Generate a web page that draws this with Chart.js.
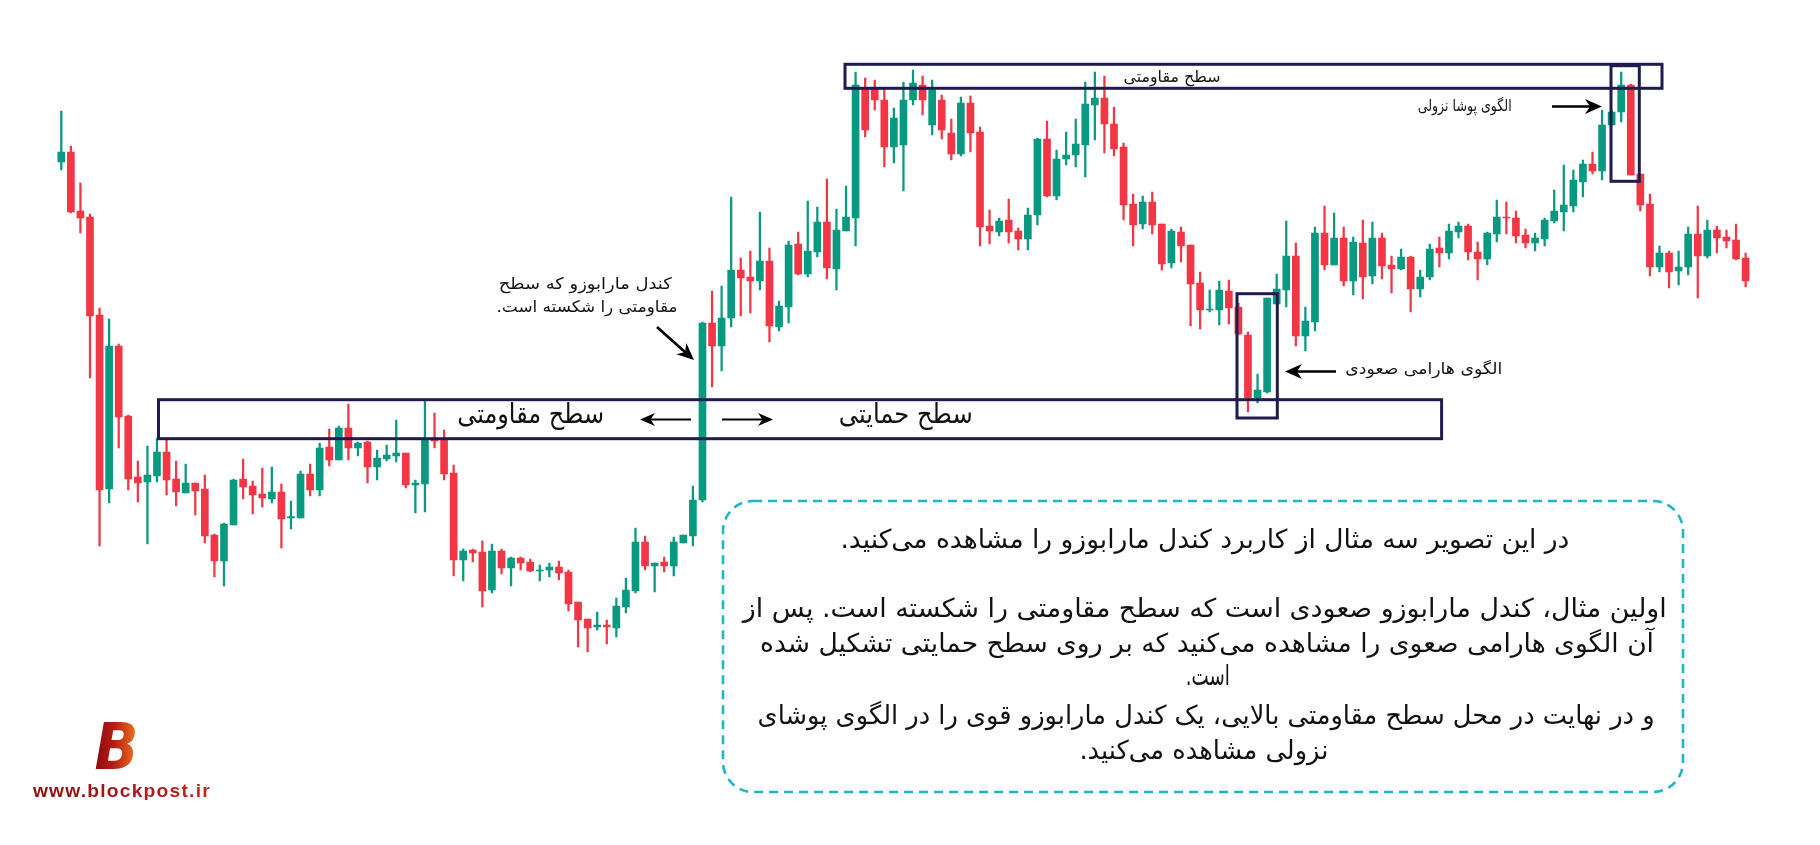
<!DOCTYPE html>
<html><head><meta charset="utf-8">
<script src="https://cdn.jsdelivr.net/npm/chart.js@4.4.0/dist/chart.umd.min.js"></script>
<style>
html,body{margin:0;padding:0;background:#fff;}
#wrap{position:relative;width:1820px;height:845px;overflow:hidden;background:#fff;}
#c{position:absolute;left:0;top:0;}
.fa{position:absolute;font-family:"DejaVu Sans",sans-serif;direction:rtl;white-space:nowrap;color:#111;line-height:1;transform-origin:50% 50%;}
.logoB{position:absolute;font-family:"DejaVu Sans",sans-serif;font-weight:900;font-style:italic;line-height:1;
  background:linear-gradient(90deg,#8a0a0a 0%,#b81d16 45%,#f07c1c 100%);-webkit-background-clip:text;background-clip:text;color:transparent;transform-origin:50% 50%;}
.logoT{position:absolute;font-family:"Liberation Sans",Arial,sans-serif;font-weight:bold;line-height:1;letter-spacing:1.2px;
  background:linear-gradient(90deg,#8f0d0d,#b0161a 60%,#c3281c);-webkit-background-clip:text;background-clip:text;color:transparent;transform-origin:50% 50%;}
</style></head>
<body><div id="wrap"><canvas id="c" width="1820" height="845"></canvas></div>
<script>
// ---- data (arbitrary price units) ----
const opens = [683,693,634,628,530,356,499,429,368,363,
369,393,366,352,362,356,310,284,320,366,
359,351,346,353,327,327,371,355,398,385,
417,397,403,378,386,389,392,360,361,406,
406,372,285,295,293,255,294,277,287,283,
274,275,278,273,243,226,218,220,217,238,
254,303,279,283,279,302,309,345,522,499,
527,575,568,564,584,518,538,601,571,593,
623,576,614,627,757,757,745,698,700,745,
760,720,745,712,691,742,713,619,613,625,
614,606,630,706,649,686,690,700,740,747,
721,698,641,621,643,621,582,613,600,562,
535,535,554,538,510,447,453,541,555,589,
509,523,612,580,607,564,602,569,607,580,
576,588,556,568,597,592,613,619,593,586,
611,628,627,610,602,606,624,633,639,663,
681,674,720,733,760,671,641,578,592,574,
578,611,589,615,608,605,587];
const highs = [734,699,662,631,537,526,501,430,384,399,
407,407,384,381,362,370,311,322,366,386,
364,377,378,361,344,374,381,402,416,419,
441,403,404,395,400,425,392,365,444,432,
415,380,296,296,304,301,296,288,288,286,
280,282,284,275,243,226,233,225,247,267,
317,309,282,288,308,310,359,523,554,559,
648,587,594,633,597,544,604,613,644,638,
666,636,659,773,767,765,757,737,763,775,
769,765,750,726,748,749,718,635,627,646,
617,637,707,724,695,713,726,763,773,769,
738,702,651,649,653,621,616,618,600,573,
555,564,565,542,513,471,547,571,624,602,
538,618,639,632,618,608,625,623,612,589,
596,589,575,601,608,621,623,621,603,613,
645,643,634,616,612,627,655,680,675,685,
693,735,735,773,761,671,651,599,594,594,
618,639,625,619,615,621,592];
const lows = [675,632,612,467,299,342,397,355,343,301,
363,350,339,352,330,302,268,259,320,346,
331,338,342,297,316,327,349,349,379,385,
385,389,362,365,384,383,357,332,333,397,
365,269,264,283,238,252,271,259,275,273,
264,268,265,234,198,193,215,201,208,232,
252,275,253,273,269,302,299,343,458,474,
518,529,532,555,503,514,522,570,568,588,
566,555,614,599,708,735,678,682,654,740,
730,710,706,685,689,693,599,601,609,602,
595,595,620,648,645,680,678,668,705,692,
689,625,599,616,611,575,577,583,519,516,
533,520,521,510,433,442,452,541,538,499,
494,514,575,580,559,550,546,561,566,552,
575,533,548,565,578,586,607,585,565,580,
603,611,602,597,594,599,622,614,633,648,
671,665,720,723,670,634,569,573,557,560,
570,547,587,592,597,585,558];
const closes = [693,633,627,529,355,499,428,366,362,370,
393,365,353,362,354,309,284,321,365,358,
350,347,353,326,328.5,371,355,397,385,417,
397,402,378,387,390,392,360,362,406,404,
371,285,294,292,254,294,277,287,282,274,
275,278,272,241,225,217,220,218,239,255,
303,279,282,279,303,310,345,522,499,527,
575,567,564,584,519,539,600,571,594,623,
577,615,628,760,715,745,698,727,745,762,
745,755,715,691,742,712,618,614,624,613,
606,630,706,649,686,690,701,741,747,721,
696,640,620,643,620,581,614,599,561,535,
536,555,537,511,447,455,547,556,589,509,
524,612,580,607,564,603,568,607,579,576,
588,556,568,596,592,614,619,593,586,612,
628,627,609,602,607,625,634,640,665,681,
674,720,733,760,670,640,578,592,573,578,
611,589,615,607,604,586,564];
const sessions = opens.map((_, i) => i + 1);

const UP = '#089981', DOWN = '#f23645', NAVY = '#1e1b4f', TEAL = '#1cb8c8';
const colors = opens.map((o, i) => closes[i] >= o ? UP : DOWN);

function arrow(ctx, x1, y1, x2, y2, lw, hl, hw) {
  const a = Math.atan2(y2 - y1, x2 - x1), c = Math.cos(a), s = Math.sin(a);
  ctx.lineWidth = lw; ctx.strokeStyle = '#000'; ctx.fillStyle = '#000';
  ctx.beginPath(); ctx.moveTo(x1, y1); ctx.lineTo(x2 - c * hl * 0.6, y2 - s * hl * 0.6); ctx.stroke();
  const bx = x2 - c * hl, by = y2 - s * hl;
  ctx.beginPath(); ctx.moveTo(x2, y2);
  ctx.lineTo(bx - s * hw, by + c * hw);
  ctx.lineTo(x2 - c * hl * 0.7, y2 - s * hl * 0.7);
  ctx.lineTo(bx + s * hw, by - c * hw);
  ctx.closePath(); ctx.fill();
}

const overlay = {
  id: 'overlay',
  afterDatasetsDraw(chart) {
    const ctx = chart.ctx;
    ctx.save();
    ctx.strokeStyle = NAVY; ctx.lineWidth = 3;
    [[158.5, 399.7, 1441.6, 438.7], [845, 64.3, 1662, 88.3], [1237, 293.7, 1277.3, 418], [1611, 65.7, 1639.3, 181.3]]
      .forEach(r => ctx.strokeRect(r[0], r[1], r[2] - r[0], r[3] - r[1]));
    arrow(ctx, 657, 327, 694, 360, 2.6, 17, 7.5);
    arrow(ctx, 691, 419.5, 640, 419.5, 2.2, 15, 6.5);
    arrow(ctx, 722, 419.5, 773, 419.5, 2.2, 15, 6.5);
    arrow(ctx, 1336, 371.5, 1285, 371.5, 2.6, 17, 7.5);
    arrow(ctx, 1552, 106.5, 1602, 106.5, 2.6, 17, 7.5);
    ctx.strokeStyle = TEAL; ctx.lineWidth = 2.6; ctx.setLineDash([9, 6]);
    ctx.beginPath(); ctx.roundRect(723, 501, 960, 291, 30); ctx.stroke();
    ctx.restore();
  }
};

new Chart(document.getElementById('c'), {
  type: 'bar',
  data: {
    labels: sessions,
    datasets: [
      { label: 'wick', data: highs.map((h, i) => [lows[i], h]), backgroundColor: colors, barThickness: 1.6, grouped: false, order: 2 },
      { label: 'body', data: opens.map((o, i) => [o, closes[i]]), backgroundColor: colors, barThickness: 7, grouped: false, order: 1, minBarLength: 1 }
    ]
  },
  options: {
    responsive: false, animation: false, devicePixelRatio: 1,
    layout: { padding: { left: 56.5, right: 69.6, top: 0, bottom: 0 } },
    plugins: { legend: { display: false }, tooltip: { enabled: false } },
    scales: { x: { display: false, offset: true }, y: { display: false, min: 0, max: 845 } }
  },
  plugins: [overlay]
});

// ---- text labels ----
const wrap = document.getElementById('wrap');
function place(t, cx, cy, size, w, cls) {
  const d = document.createElement('div');
  d.className = cls || 'fa'; d.textContent = t; d.style.fontSize = size + 'px';
  d.style.left = '0px'; d.style.top = '0px';
  wrap.appendChild(d);
  const r = d.getBoundingClientRect();
  d.style.left = (cx - r.width / 2) + 'px';
  d.style.top = (cy - r.height / 2) + 'px';
  d.style.transform = 'scaleX(' + (w / r.width) + ')';
}
place('سطح مقاومتی', 1172, 77, 16, 97);
place('الگوی پوشا نزولی', 1465, 106, 16, 94);
place('کندل مارابوزو که سطح', 585, 284, 16, 173);
place('مقاومتی را شکسته است.', 587, 307, 16, 181);
place('سطح مقاومتی', 531, 413, 27, 147);
place('سطح حمایتی', 906, 413, 27, 134);
place('الگوی هارامی صعودی', 1424, 369, 16, 157);
place('در این تصویر سه مثال از کاربرد کندل مارابوزو را مشاهده می‌کنید.', 1205, 539, 26, 729);
place('اولین مثال، کندل مارابوزو صعودی است که سطح مقاومتی را شکسته است. پس از', 1205, 608, 26, 924);
place('آن الگوی هارامی صعوی را مشاهده می‌کنید که بر روی سطح حمایتی تشکیل شده', 1207, 643, 26, 894);
place('است.', 1208, 676, 28, 44);
place('و در نهایت در محل سطح مقاومتی بالایی، یک کندل مارابوزو قوی را در الگوی پوشای', 1206, 715, 26, 897);
place('نزولی مشاهده می‌کنید.', 1204, 750, 26, 249);
place('B', 116, 747, 64, 44, 'logoB');
place('www.blockpost.ir', 122, 790, 19, 178, 'logoT');
</script>
</body></html>
